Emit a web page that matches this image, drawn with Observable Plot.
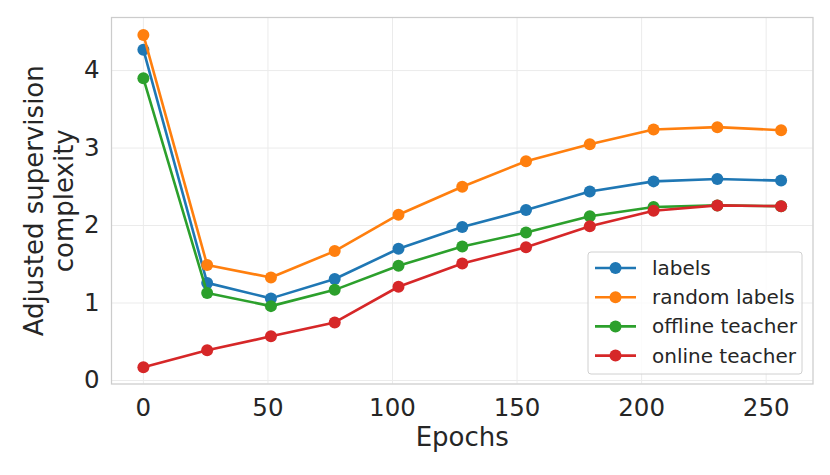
<!DOCTYPE html>
<html>
<head>
<meta charset="utf-8">
<script src="https://cdn.jsdelivr.net/npm/d3@7"></script>
<script src="https://cdn.jsdelivr.net/npm/@observablehq/plot@0.6"></script>
<style>
  html, body { margin: 0; padding: 0; background: #fff; }
  #chart { width: 830px; height: 475px; }
</style>
</head>
<body>
<div id="chart"></div>
<script>
const epochs = [0, 25.6, 51.2, 76.8, 102.4, 128, 153.6, 179.2, 204.8, 230.4, 256];
const labelsVals = [4.27, 1.26, 1.06, 1.31, 1.70, 1.98, 2.20, 2.44, 2.57, 2.60, 2.58];
const randomVals = [4.46, 1.49, 1.33, 1.67, 2.14, 2.50, 2.83, 3.05, 3.24, 3.27, 3.23];
const offlineVals = [3.90, 1.13, 0.96, 1.17, 1.48, 1.73, 1.91, 2.12, 2.24, 2.26, 2.25];
const onlineVals = [0.17, 0.39, 0.57, 0.75, 1.21, 1.51, 1.72, 1.99, 2.19, 2.26, 2.25];
const seriesNames = ["labels", "random labels", "offline teacher", "online teacher"];
const seriesColors = ["#1f77b4", "#ff7f0e", "#2ca02c", "#d62728"];
const xTicks = [0, 50, 100, 150, 200, 250];
const yTicks = [0, 1, 2, 3, 4];
const xLabel = "Epochs";
const yLabel = "Adjusted supervision\ncomplexity";

const allVals = [labelsVals, randomVals, offlineVals, onlineVals];
const series = allVals.map((vals, i) =>
  epochs.map((e, j) => ({epoch: e, value: vals[j], name: seriesNames[i]}))
);

const FONT = "DejaVu Sans, sans-serif";

const marks = [
  Plot.gridX(xTicks, {stroke: "#ebebeb", strokeOpacity: 1, strokeWidth: 1}),
  Plot.gridY(yTicks, {stroke: "#ebebeb", strokeOpacity: 1, strokeWidth: 1}),
  Plot.frame({stroke: "#cccccc", strokeWidth: 1.25}),
  Plot.axisX(xTicks, {tickSize: 0, tickPadding: 15, fontSize: 24.5, fill: "#262626", label: null, tickFormat: d => String(d)}),
  Plot.axisY(yTicks, {tickSize: 0, tickPadding: 12, fontSize: 24.5, fill: "#262626", label: null, tickFormat: d => String(d)}),
  Plot.text([xLabel], {frameAnchor: "bottom", dy: 54, fontSize: 26, fill: "#262626", lineAnchor: "middle", textAnchor: "middle"}),
  Plot.text([yLabel], {frameAnchor: "left", dx: -63, rotate: -90, fontSize: 26, fill: "#262626", lineAnchor: "middle", textAnchor: "middle", lineHeight: 1.15})
];
series.forEach((d, i) => {
  marks.push(Plot.line(d, {x: "epoch", y: "value", stroke: seriesColors[i], strokeWidth: 2.6}));
  marks.push(Plot.dot(d, {x: "epoch", y: "value", r: 6, fill: seriesColors[i], stroke: "none"}));
});

const plot = Plot.plot({
  width: 830,
  height: 475,
  marginLeft: 111,
  marginRight: 17.5,
  marginTop: 17,
  marginBottom: 91.5,
  x: {domain: [-12.8, 268.8]},
  y: {domain: [-0.045, 4.685]},
  style: {fontFamily: FONT, background: "#fff", overflow: "visible"},
  marks
});

// Legend
const svg = d3.select(plot);
const lg = svg.append("g").attr("font-family", FONT).attr("text-anchor", "start");
lg.append("rect")
  .attr("x", 588).attr("y", 252).attr("width", 214).attr("height", 122)
  .attr("rx", 3).attr("fill", "#fff").attr("fill-opacity", 0.8)
  .attr("stroke", "#d0d0d0").attr("stroke-width", 1);
seriesNames.forEach((name, i) => {
  const cy = 268 + i * 29.2;
  lg.append("line").attr("x1", 595).attr("x2", 636).attr("y1", cy).attr("y2", cy)
    .attr("stroke", seriesColors[i]).attr("stroke-width", 2.6);
  lg.append("circle").attr("cx", 615.5).attr("cy", cy).attr("r", 6).attr("fill", seriesColors[i]);
  lg.append("text").attr("x", 652).attr("y", cy).attr("dy", "0.35em")
    .attr("text-anchor", "start")
    .attr("font-size", 20).attr("fill", "#262626").text(name);
});

document.getElementById("chart").appendChild(plot);
</script>
</body>
</html>
